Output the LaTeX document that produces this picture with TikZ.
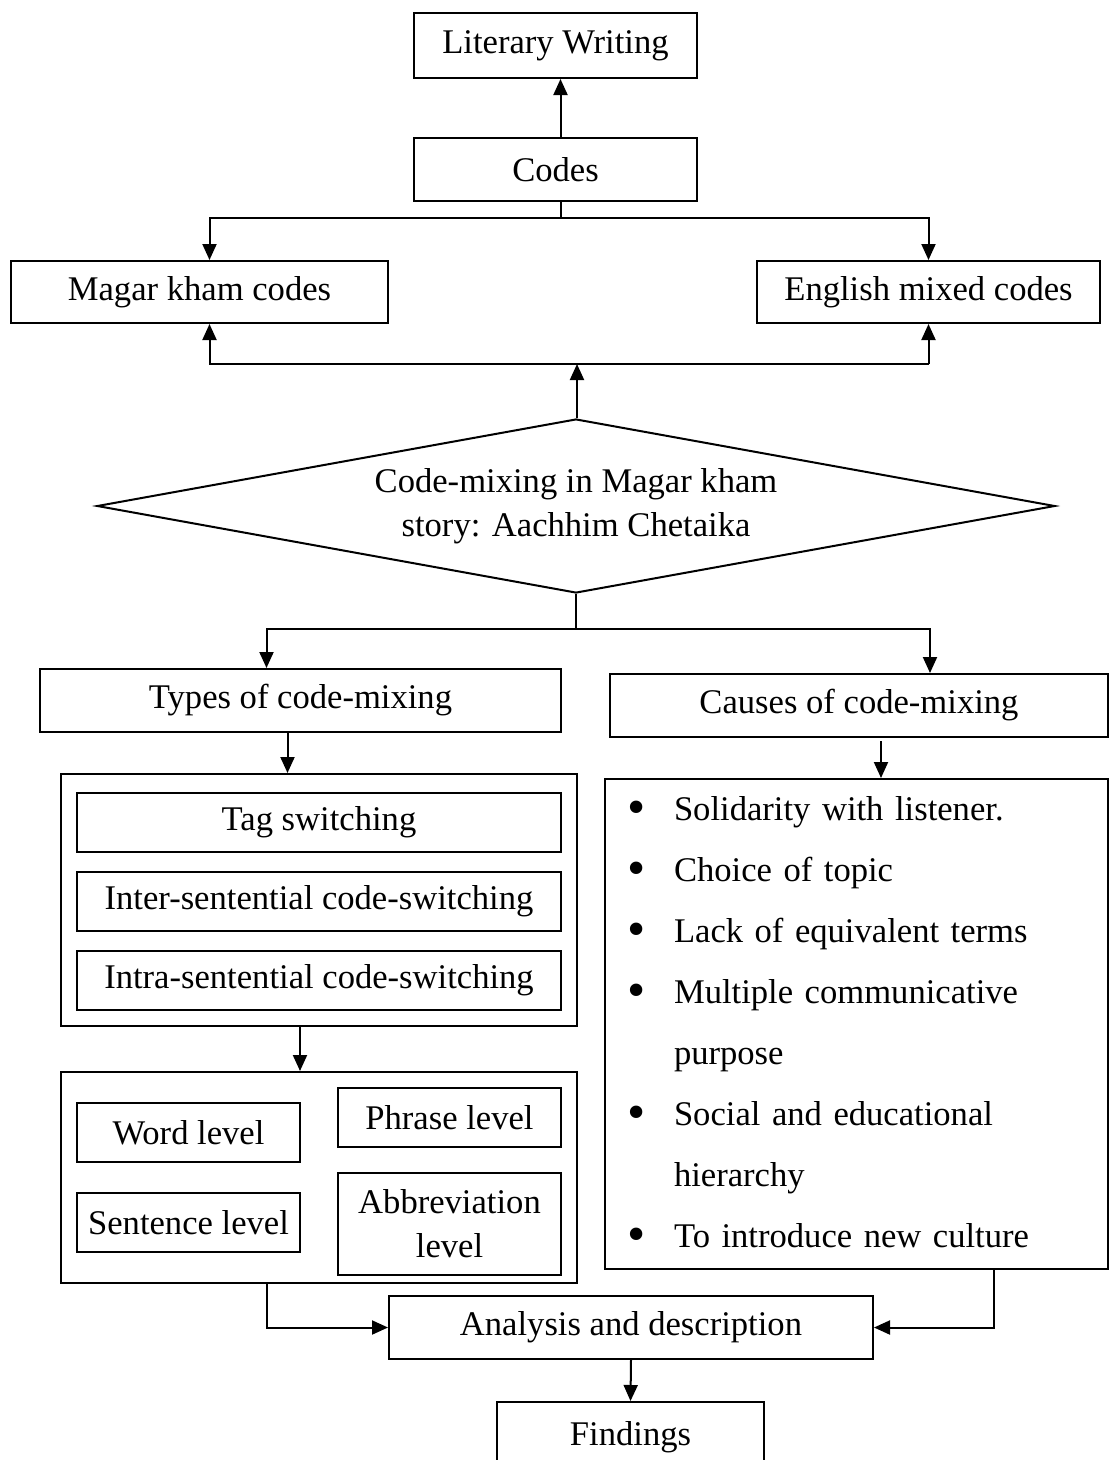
\documentclass[tikz,border=0pt]{standalone}
\usepackage{fontspec}
\setmainfont{Liberation Serif}
\usetikzlibrary{shapes.geometric,arrows.meta}
\newcommand{\bulletitem}{\makebox[47pt][l]{\raisebox{-4pt}{\fontsize{52}{0}\selectfont\textbullet}}}
\begin{document}
\begin{tikzpicture}[x=1pt,y=-1pt,line width=2pt,
    font=\fontsize{34.6}{44}\selectfont,
    box/.style={draw,rectangle,inner sep=0pt,align=center},
    arr/.style={-{Triangle[length=16pt,width=14pt]}}]
    \useasboundingbox (0,0) rectangle (1109,1460);
    \node[box,minimum width=283,minimum height=65] (lit) at (555.5,45.5) {Literary Writing};
    \node[box,minimum width=283,minimum height=63] (codes) at (555.5,169.5) {Codes};
    \node[box,minimum width=377,minimum height=62] (magar) at (199.5,292) {Magar kham codes};
    \node[box,minimum width=343,minimum height=62] (english) at (928.5,292) {English mixed codes};
    \node[draw,diamond,aspect=5.5,inner sep=0pt,align=center,
        minimum width=958,minimum height=174] (cm) at (576,506)
        {Code-mixing in Magar kham\\story: Aachhim Chetaika};
    \node[box,minimum width=521,minimum height=63] (types) at (300.5,700.5) {Types of code-mixing};
    \node[box,minimum width=498,minimum height=63] (causes) at (859,705.5) {Causes of code-mixing};
    \node[box,minimum width=516,minimum height=252] (kinds) at (319,900) {};
    \node[box,minimum width=484,minimum height=59] (tag) at (319,822.5) {Tag switching};
    \node[box,minimum width=484,minimum height=59] (inter) at (319,901.5) {Inter-sentential code-switching};
    \node[box,minimum width=484,minimum height=59] (intra) at (319,980.5) {Intra-sentential code-switching};
    \node[box,minimum width=516,minimum height=211] (levels) at (319,1177.5) {};
    \node[box,minimum width=223,minimum height=59] (word) at (188.5,1132.5) {Word level};
    \node[box,minimum width=223,minimum height=59] (phrase) at (449.5,1117.5) {Phrase level};
    \node[box,minimum width=223,minimum height=59] (sentence) at (188.5,1222.5) {Sentence level};
    \node[box,minimum width=223,minimum height=102] (abbr) at (449.5,1224) {Abbreviation\\level};
    \node[box,minimum width=503,minimum height=490,text width=459,inner xsep=22pt,align=left,
        font=\fontsize{34.6}{61}\selectfont] (why) at (856.5,1024) {%
        \bulletitem Solidarity with listener.\\
        \bulletitem Choice of topic\\
        \bulletitem Lack of equivalent terms\\
        \bulletitem Multiple communicative\\
        \hspace*{47pt}purpose\\
        \bulletitem Social and educational\\
        \hspace*{47pt}hierarchy\\
        \bulletitem To introduce new culture};
    \node[box,minimum width=484,minimum height=63] (analysis) at (631,1327.5) {Analysis and description};
    \node[box,minimum width=267,minimum height=70] (findings) at (630.5,1437) {Findings};

    \draw[arr] ([xshift=5]codes.north) -- ([xshift=5]lit.south);
    \draw[arr] ([xshift=5]codes.south) |- ([xshift=10]magar.north |- 0,218) -- ([xshift=10]magar.north);
    \draw[arr] ([xshift=5]codes.south |- 0,218) -| (english.north);
    \draw[arr] ([xshift=1]cm.north) -- ([xshift=1]cm.north |- 0,364);
    \draw[arr] (english.south |- 0,364) -| ([xshift=10]magar.south);
    \draw[arr] (english.south |- 0,364) -- (english.south);
    \draw[arr] (cm.south) |- ([xshift=-34]types.north |- 0,629) -- ([xshift=-34]types.north);
    \draw[arr] (cm.south |- 0,629) -| ([xshift=71]causes.north);
    \draw[arr] ([xshift=-13]types.south) -- ([xshift=-13]types.south |- kinds.north);
    \draw[arr] ([xshift=22,yshift=-3]causes.south) -- ([xshift=22]causes.south |- why.north);
    \draw[arr] ([xshift=-19]kinds.south) -- ([xshift=-19]kinds.south |- levels.north);
    \draw[arr] ([xshift=-52]levels.south) |- (analysis.west);
    \draw[arr] ([xshift=137.5]why.south) |- (analysis.east);
    \draw[arr] (analysis.south) -- (findings.north);
\end{tikzpicture}
\end{document}
